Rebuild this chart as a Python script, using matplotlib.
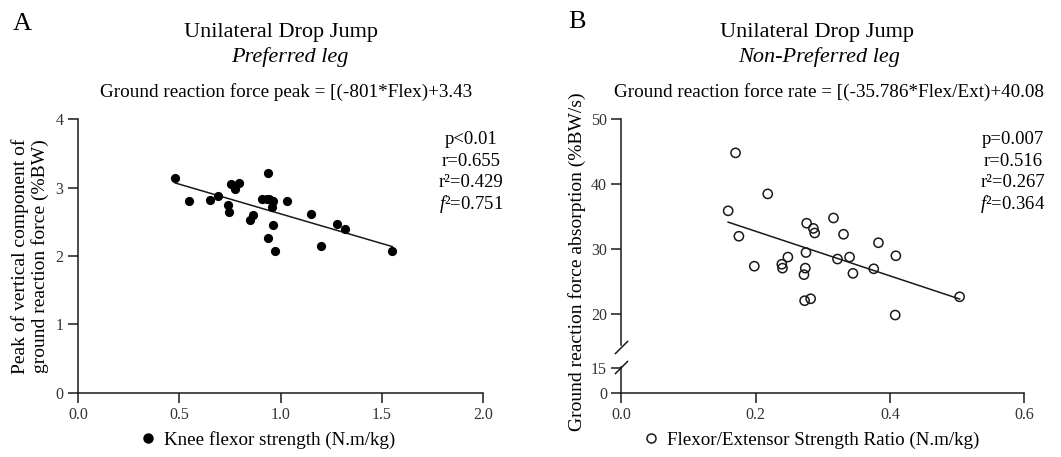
import numpy as np
import matplotlib
matplotlib.use("Agg")
import matplotlib.pyplot as plt
from matplotlib.lines import Line2D

plt.rcParams['font.family'] = ['Liberation Serif', 'DejaVu Serif']
plt.rcParams['mathtext.fontset'] = 'custom'
plt.rcParams['mathtext.rm'] = 'Liberation Serif'
plt.rcParams['mathtext.it'] = 'Liberation Serif:italic'

# panel A: preferred leg, knee flexor strength vs peak vGRF
flex_a = [0.481, 0.549, 0.650, 0.693, 0.742, 0.745, 0.757, 0.777, 0.796, 0.849,
          0.866, 0.907, 0.937, 0.932, 0.945, 0.956, 0.965, 0.940, 0.965, 0.971,
          1.030, 1.151, 1.199, 1.278, 1.319, 1.552]
peak_a = [3.14, 2.81, 2.82, 2.88, 2.75, 2.65, 3.05, 2.98, 3.07, 2.52,
          2.60, 2.83, 3.22, 2.83, 2.83, 2.71, 2.80, 2.27, 2.46, 2.08,
          2.81, 2.62, 2.15, 2.47, 2.40, 2.07]
fit_a = (-0.868, 3.485)
stats_a = ["p<0.01", "r=0.655", "r²=0.429", "$f$²=0.751"]

# panel B: non-preferred leg, flexor/extensor ratio vs GRF absorption rate
ratio_b = [0.159, 0.170, 0.175, 0.198, 0.218, 0.239, 0.240, 0.248, 0.272, 0.274,
           0.276, 0.275, 0.273, 0.282, 0.286, 0.288, 0.316, 0.322, 0.331, 0.340,
           0.345, 0.376, 0.383, 0.409, 0.408, 0.504]
rate_b = [35.9, 44.8, 32.0, 27.4, 38.5, 27.7, 27.1, 28.8, 26.1, 27.1,
          34.0, 29.5, 22.1, 22.4, 33.2, 32.5, 34.8, 28.5, 32.3, 28.8,
          26.3, 27.0, 31.0, 29.0, 19.9, 22.7]
fit_b = (-34.2, 39.6)
stats_b = ["p=0.007", "r=0.516", "r²=0.267", "$f$²=0.364"]

W, H = 1061, 457
fig = plt.figure(figsize=(W / 100, H / 100), dpi=100)
ink = '#1a1a1a'


def px_box(x0, x1, ytop, ybot):
    return [x0 / W, 1 - ybot / H, (x1 - x0) / W, (ybot - ytop) / H]


def style(ax, bottom=True):
    for s in ['top', 'right']:
        ax.spines[s].set_visible(False)
    for s in ['left', 'bottom']:
        ax.spines[s].set_linewidth(1.1)
        ax.spines[s].set_color(ink)
    ax.tick_params(direction='out', length=7.5, width=1.1, labelsize=11.5, pad=3,
                   color=ink, labelcolor='#333333')
    if not bottom:
        ax.spines['bottom'].set_visible(False)
        ax.tick_params(axis='x', bottom=False, labelbottom=False)


# ---- panel A
axa = fig.add_axes(px_box(78, 483, 119.3, 392.7))
style(axa)
axa.scatter(flex_a, peak_a, s=44, color='black', zorder=3, linewidths=0)
xa = np.array([min(flex_a), max(flex_a)])
axa.plot(xa, fit_a[0] * xa + fit_a[1], color=ink, lw=1.1)
axa.set_xlim(0, 2)
axa.set_ylim(0, 4)
axa.set_xticks([0, 0.5, 1.0, 1.5, 2.0])
axa.set_xticklabels(['0.0', '0.5', '1.0', '1.5', '2.0'])
axa.set_yticks([0, 1, 2, 3, 4])

# ---- panel B (broken y axis)
axb = fig.add_axes(px_box(621.5, 1024, 119, 345))
axb_low = fig.add_axes(px_box(621.5, 1024, 367, 392.7))
style(axb, bottom=False)
style(axb_low)
axb.scatter(ratio_b, rate_b, s=44, facecolors='none', edgecolors=ink, linewidths=1.1, zorder=3)
xb = np.array([min(ratio_b), max(ratio_b)])
axb.plot(xb, fit_b[0] * xb + fit_b[1], color=ink, lw=1.1)
axb.set_xlim(0, 0.6)
axb.set_ylim(15.3, 50)
axb.set_yticks([20, 30, 40, 50])
axb_low.set_xlim(0, 0.6)
axb_low.set_ylim(0, 15.6)
axb_low.set_yticks([0, 15])
axb_low.set_xticks([0, 0.2, 0.4, 0.6])
axb_low.set_xticklabels(['0.0', '0.2', '0.4', '0.6'])

brk = dict(marker=[(-1, -1), (1, 1)], markersize=9.5, linestyle='none',
           color=ink, mec=ink, mew=1.1, clip_on=False)
axb.plot([0], [-0.01], transform=axb.transAxes, **brk)
axb_low.plot([0], [1.0], transform=axb_low.transAxes, **brk)


# ---- titles and texts
def ftext(x, y, s, **kw):
    fig.text(x / W, 1 - y / H, s, **kw)


ftext(13, 24, "A", fontsize=19, ha='left', va='center')
ftext(568, 22, "B", fontsize=19, ha='left', va='center')

ftext(280.5, 37.5, "Unilateral Drop Jump", fontsize=16, ha='center', va='baseline')
ftext(290, 61.7, "Preferred leg", fontsize=16, style='italic', ha='center', va='baseline')
ftext(286, 97.3, "Ground reaction force peak = [(-801*Flex)+3.43", fontsize=13.8, ha='center', va='baseline')

ftext(817.5, 37.5, "Unilateral Drop Jump", fontsize=16, ha='center', va='baseline')
ftext(819.5, 61.7, "Non-Preferred leg", fontsize=16, style='italic', ha='center', va='baseline')
ftext(829, 97.3, "Ground reaction force rate = [(-35.786*Flex/Ext)+40.08", fontsize=13.8, ha='center', va='baseline')

for i, s in enumerate(stats_a):
    ftext(471, 144 + 21.7 * i, s, fontsize=13.5, ha='center', va='baseline')
for i, s in enumerate(stats_b):
    ftext(1013, 144 + 21.7 * i, s, fontsize=13.5, ha='center', va='baseline')

ftext(30, 256, "Peak of vertical component of\nground reaction force (%BW)",
      fontsize=14, rotation=90, ha='center', va='center', linespacing=1.2)
ftext(577, 262, "Ground reaction force absorption (%BW/s)",
      fontsize=14, rotation=90, ha='center', va='center')

# x labels drawn as legends with the marker symbol
h_a = Line2D([], [], marker='o', linestyle='none', color='black', markersize=6.5)
h_b = Line2D([], [], marker='o', linestyle='none', mfc='none', mec=ink, mew=1.1, markersize=6.5)
fig.legend([h_a], ["Knee flexor strength (N.m/kg)"], loc='center',
           bbox_to_anchor=(267 / W, 1 - 440 / H), frameon=False, fontsize=13.7,
           handletextpad=0.35, handlelength=1.0, borderpad=0)
fig.legend([h_b], ["Flexor/Extensor Strength Ratio (N.m/kg)"], loc='center',
           bbox_to_anchor=(810.5 / W, 1 - 440 / H), frameon=False, fontsize=13.7,
           handletextpad=0.35, handlelength=1.0, borderpad=0)

fig.savefig("out.png", dpi=100)
